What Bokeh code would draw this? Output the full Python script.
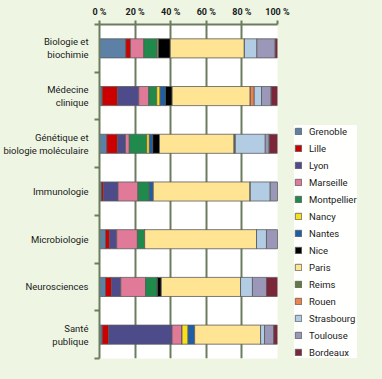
from bokeh.plotting import figure
from bokeh.models import (Range1d, FixedTicker, Legend, LegendItem, ColumnDataSource)
from bokeh.embed import file_html
from bokeh.resources import INLINE

disciplines = ["Biologie et\nbiochimie", "Médecine\nclinique", "Génétique et\nbiologie moléculaire",
               "Immunologie", "Microbiologie", "Neurosciences", "Santé\npublique"]
cities = ["Grenoble", "Lille", "Lyon", "Marseille", "Montpellier", "Nancy", "Nantes", "Nice",
          "Paris", "Reims", "Rouen", "Strasbourg", "Toulouse", "Bordeaux"]
colors = ["#5D80A6", "#CC0000", "#4E4B8A", "#E07A98", "#1F8A4C", "#F6E11E", "#1E5EA8", "#000000",
          "#FFE494", "#5F7B3E", "#F2804A", "#B2CDE3", "#9A97B9", "#7B2639"]

Grenoble = [14.8, 1.5, 4.1, 1.1, 3.4, 3.4, 1.5]
Lille = [2.6, 8.6, 6.0, 1.1, 2.2, 3.4, 3.7]
Lyon = [0.0, 12.0, 4.5, 8.2, 4.1, 5.2, 35.6]
Marseille = [7.5, 5.6, 2.2, 11.2, 11.6, 13.9, 5.6]
Montpellier = [7.5, 4.5, 9.8, 6.4, 4.1, 6.7, 0.0]
Nancy = [0.7, 1.9, 1.5, 0.0, 0.0, 0.0, 3.4]
Nantes = [0.0, 3.0, 1.9, 2.2, 0.0, 0.0, 3.7]
Nice = [6.7, 3.8, 3.8, 0.0, 0.0, 2.2, 0.0]
Paris = [41.7, 44.0, 42.0, 54.5, 62.9, 44.6, 37.1]
Reims = [0.0, 0.0, 0.7, 0.0, 0.0, 0.0, 0.0]
Rouen = [0.0, 2.2, 0.0, 0.0, 0.0, 0.0, 0.0]
Strasbourg = [7.0, 4.1, 16.9, 11.2, 5.6, 6.7, 2.2]
Toulouse = [10.3, 5.4, 2.2, 4.1, 6.2, 7.9, 5.2]
Bordeaux = [1.3, 3.6, 4.7, 0.0, 0.0, 6.2, 2.1]

x_ticks = [0, 20, 40, 60, 80, 100]
x_tick_labels = ["0 %", "20 %", "40 %", "60 %", "80 %", "100 %"]

series = [Grenoble, Lille, Lyon, Marseille, Montpellier, Nancy, Nantes, Nice,
          Paris, Reims, Rouen, Strasbourg, Toulouse, Bordeaux]
n = len(disciplines)
totals = [sum(s[i] for s in series) for i in range(n)]
data = {"y": [n - i - 0.5 for i in range(n)]}
for c, s in zip(cities, series):
    data[c] = [v / t * 100 for v, t in zip(s, totals)]
src = ColumnDataSource(data)

BG = "#EEF6E3"
GRID = "#6B7D5E"
FONT = "Roboto"

p = figure(frame_width=178, frame_height=334, output_backend="svg", toolbar_location=None,
           x_range=Range1d(0, 100), y_range=Range1d(0, n),
           x_axis_location="above",
           min_border_left=90, min_border_right=0, min_border_top=24, min_border_bottom=5)
p.border_fill_color = BG
p.background_fill_color = "white"
p.outline_line_color = None

rs = p.hbar_stack(cities, y="y", height=0.4, color=colors, source=src,
                  line_color="#5A5A5A", line_width=0.8)
for r, col in zip(rs, colors):
    r.glyph.fill_color = col
    r.glyph.line_color = "#5A5A5A"

# x axis (top)
xa = p.xaxis[0]
xa.ticker = FixedTicker(ticks=x_ticks)
xa.major_label_overrides = {t: l for t, l in zip(x_ticks, x_tick_labels)}
xa.major_tick_in = 0
xa.major_tick_out = 4
xa.minor_tick_out = 0
xa.minor_tick_in = 0
xa.axis_line_color = GRID
xa.axis_line_width = 2
xa.major_tick_line_color = GRID
xa.major_tick_line_width = 2
xa.major_label_text_font = FONT
xa.major_label_text_font_style = "bold"
xa.major_label_text_font_size = "9px"
xa.major_label_text_color = "#1a1a1a"
xa.major_label_standoff = 4

p.xgrid.ticker = FixedTicker(ticks=x_ticks)
p.xgrid.grid_line_color = GRID
p.xgrid.grid_line_width = 2
p.ygrid.grid_line_color = None

# y axis (left): labels at centers, ticks at boundaries
ya = p.yaxis[0]
centers = [n - i - 0.5 for i in range(n)]
ya.ticker = FixedTicker(ticks=centers, minor_ticks=list(range(0, n + 1)))
ya.major_label_overrides = {c: d for c, d in zip(centers, disciplines)}
ya.major_tick_out = 0
ya.major_tick_in = 0
ya.minor_tick_out = 5
ya.minor_tick_in = 0
ya.minor_tick_line_color = GRID
ya.minor_tick_line_width = 2
ya.axis_line_color = GRID
ya.axis_line_width = 2
ya.major_label_text_font = FONT
ya.major_label_text_font_size = "9.5px"
ya.major_label_text_color = "#1a1a1a"
ya.major_label_standoff = 6

try:
    Legend(label_height=12.5)
    lh = 12.5
except Exception:
    lh = 12
legend = Legend(items=[LegendItem(label=c, renderers=[r]) for c, r in zip(cities, rs)],
                location=(17, 0), background_fill_color="white", border_line_color=None,
                glyph_width=8, glyph_height=8, label_height=lh, spacing=5, padding=6,
                label_standoff=7, margin=0,
                label_text_font=FONT, label_text_font_size="9.5px", label_text_color="#1a1a1a")
p.add_layout(legend, "right")

html = file_html(p, INLINE)
html = html.replace("</head>", "<style>html,body{background:%s;}</style></head>" % BG)
open("out.html", "w").write(html)
